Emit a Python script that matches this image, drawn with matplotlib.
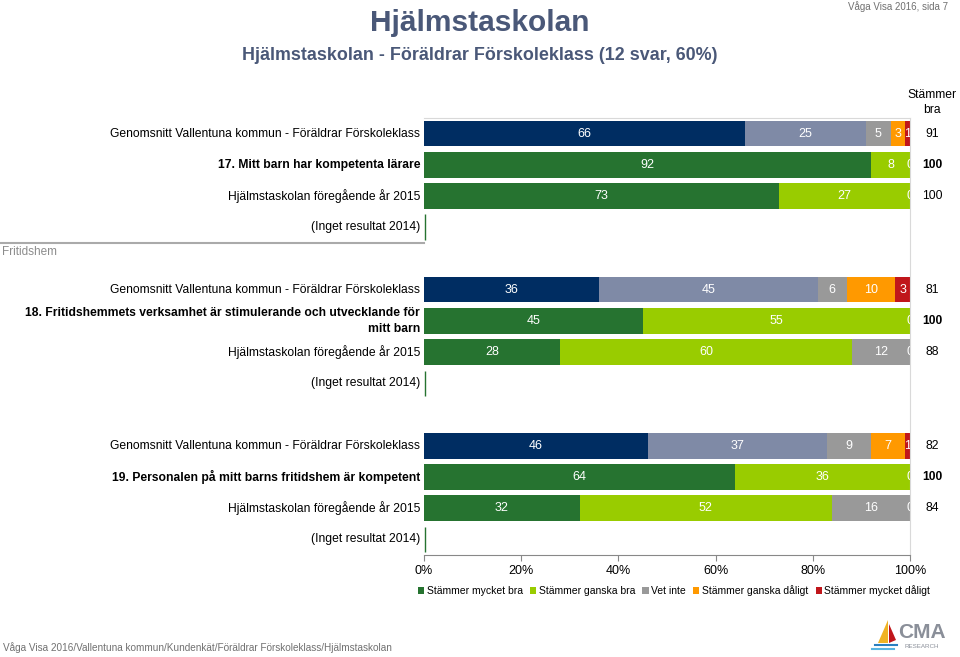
import matplotlib.pyplot as plt
from matplotlib.patches import Patch, Polygon
from matplotlib.lines import Line2D

plt.rcParams['font.family'] = ['Liberation Sans', 'DejaVu Sans']

# === DATA ===

row_labels = [
    'Genomsnitt Vallentuna kommun - Föräldrar Förskoleklass',
    '17. Mitt barn har kompetenta lärare',
    'Hjälmstaskolan föregående år 2015',
    '(Inget resultat 2014)',
    None,
    'Genomsnitt Vallentuna kommun - Föräldrar Förskoleklass',
    '18. Fritidshemmets verksamhet är stimulerande och utvecklande för\nmitt barn',
    'Hjälmstaskolan föregående år 2015',
    '(Inget resultat 2014)',
    None,
    'Genomsnitt Vallentuna kommun - Föräldrar Förskoleklass',
    '19. Personalen på mitt barns fritidshem är kompetent',
    'Hjälmstaskolan föregående år 2015',
    '(Inget resultat 2014)',
]
row_kind = ['avg', 'main', 'prev', 'none', None,
            'avg', 'main', 'prev', 'none', None,
            'avg', 'main', 'prev', 'none']

# None = no segment / no label, 0 = zero segment with label
mycket_bra = [66, 92, 73, None, None, 36, 45, 28, None, None, 46, 64, 32, None]
ganska_bra = [25, 8, 27, None, None, 45, 55, 60, None, None, 37, 36, 52, None]
vet_inte = [5, 0, 0, None, None, 6, 0, 12, None, None, 9, 0, 16, None]
ganska_daligt = [3, None, None, None, None, 10, None, 0, None, None, 7, None, 0, None]
mycket_daligt = [1, None, None, None, None, 3, None, None, None, None, 1, None, None, None]

stammer_bra = [91, 100, 100, None, None, 81, 100, 88, None, None, 82, 100, 84, None]

legend_labels = ['Stämmer mycket bra', 'Stämmer ganska bra', 'Vet inte',
                 'Stämmer ganska dåligt', 'Stämmer mycket dåligt']

# === COLORS ===

avg_colors = ['#002d62', '#7f8aa6', '#999999', '#ff9900', '#c0161b']
main_colors = ['#267330', '#99cc00', '#999999', '#ff9900', '#c0161b']
title_color = '#4a5878'

# === FIGURE ===

fig = plt.figure(figsize=(9.6, 6.57), dpi=100)
ax = fig.add_axes([424 / 960, 1 - 555 / 657, 486 / 960, 437 / 657])

series = [mycket_bra, ganska_bra, vet_inte, ganska_daligt, mycket_daligt]
bar_h = 0.82

for i, kind in enumerate(row_kind):
    if kind is None:
        continue
    if kind == 'none':
        ax.plot([0.15, 0.15], [i - bar_h / 2, i + bar_h / 2], color=main_colors[0],
                linewidth=1.0, solid_capstyle='butt')
        continue
    colors = avg_colors if kind == 'avg' else main_colors
    left = 0
    for s, vals in enumerate(series):
        v = vals[i]
        if v is None:
            continue
        if v > 0:
            ax.barh(i, v, left=left, height=bar_h, color=colors[s], linewidth=0)
        ax.text(left + v / 2, i, str(v), ha='center', va='center', color='white',
                fontsize=9, clip_on=True)
        left += v

for i, v in enumerate(stammer_bra):
    if v is None:
        continue
    ax.text(104.6, i, str(v), ha='center', va='center', fontsize=8.75,
            fontweight='bold' if row_kind[i] == 'main' else 'normal', clip_on=False)

ax.text(104.6, -1.0, 'Stämmer\nbra', ha='center', va='center', fontsize=8.75,
        linespacing=1.4, clip_on=False)

for i, lab in enumerate(row_labels):
    if lab is None:
        continue
    ax.text(-0.8, i, lab, ha='right', va='center', fontsize=8.75,
            fontweight='bold' if row_kind[i] == 'main' else 'normal',
            linespacing=1.45, clip_on=False)

ax.set_xlim(0, 100)
ax.set_ylim(13.5, -0.5)
ax.set_yticks([])
ax.set_xticks(range(0, 101, 20))
ax.set_xticklabels([f'{t}%' for t in range(0, 101, 20)], fontsize=9)
ax.tick_params(axis='x', length=4, color='#888888', pad=3)
for side in ['top', 'right']:
    ax.spines[side].set_color('#d9d9d9')
    ax.spines[side].set_linewidth(0.8)
ax.spines['left'].set_visible(False)
ax.spines['bottom'].set_color('#888888')
ax.spines['bottom'].set_linewidth(0.8)

# section separator and heading
fig.add_artist(Line2D([0, 424 / 960], [1 - 243 / 657, 1 - 243 / 657], color='#aaaaaa',
                      linewidth=1.5))
fig.text(2 / 960, 1 - 252 / 657, 'Fritidshem', fontsize=8.5, color='#8c8c8c',
         ha='left', va='center')

# titles
fig.text(480 / 960, 1 - 23 / 657, 'Hjälmstaskolan', fontsize=21.5, fontweight='bold',
         color=title_color, ha='center', va='center')
fig.text(480 / 960, 1 - 55 / 657, 'Hjälmstaskolan - Föräldrar Förskoleklass (12 svar, 60%)',
         fontsize=12.9, fontweight='bold', color=title_color, ha='center', va='center')
fig.text(948 / 960, 1 - 7 / 657, 'Våga Visa 2016, sida 7', fontsize=7, color='#707070',
         ha='right', va='center')
fig.text(3 / 960, 1 - 648 / 657,
         'Våga Visa 2016/Vallentuna kommun/Kundenkät/Föräldrar Förskoleklass/Hjälmstaskolan',
         fontsize=7.2, color='#707070', ha='left', va='center')

# legend
handles = [Patch(facecolor=c, edgecolor='none') for c in main_colors]
fig.legend(handles, legend_labels, loc='center', bbox_to_anchor=(674 / 960, 1 - 591 / 657),
           ncol=5, frameon=False, fontsize=7.5, handlelength=0.6, handleheight=0.6,
           handletextpad=0.25, columnspacing=0.7)

# logo
def fxy(x, y):
    return (x / 960, 1 - y / 657)

fig.add_artist(Polygon([fxy(888, 620), fxy(878, 643), fxy(888, 643)],
                       closed=True, facecolor='#f0b323', edgecolor='none'))
fig.add_artist(Polygon([fxy(889, 624), fxy(889, 643), fxy(896, 640)],
                       closed=True, facecolor='#c0161b', edgecolor='none'))
fig.add_artist(Line2D([875 / 960, 897 / 960], [1 - 645 / 657, 1 - 645 / 657],
                      color='#2a7fc0', linewidth=1.5))
fig.add_artist(Line2D([872 / 960, 894 / 960], [1 - 649 / 657, 1 - 649 / 657],
                      color='#58b4e0', linewidth=1.5))
fig.text(922 / 960, 1 - 633 / 657, 'CMA', fontsize=15, fontweight='bold', color='#8a8f99',
         ha='center', va='center')
fig.text(922 / 960, 1 - 647 / 657, 'RESEARCH', fontsize=4.5, color='#8a8f99',
         ha='center', va='center')

fig.savefig('out.png', dpi=100)
